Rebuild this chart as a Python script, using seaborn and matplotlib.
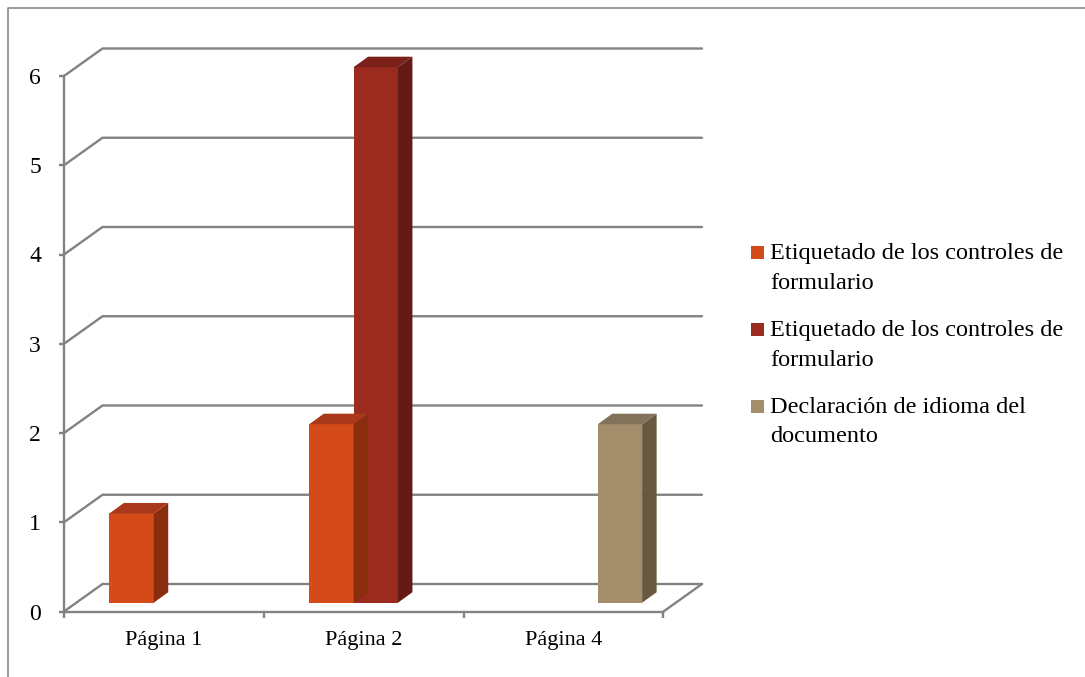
import matplotlib
matplotlib.use("Agg")
import numpy as np
import pandas as pd
import matplotlib.pyplot as plt
import matplotlib.colors as mcolors
from matplotlib.patches import Polygon, Rectangle
from matplotlib.lines import Line2D
from matplotlib.transforms import IdentityTransform, ScaledTranslation
import seaborn as sns

# ---- data -------------------------------------------------------------
pages = ["Página 1", "Página 2", "Página 4"]
series_keys = ["form_labels_a", "form_labels_b", "doc_language"]
series_labels = [
    "Etiquetado de los controles de\nformulario",
    "Etiquetado de los controles de\nformulario",
    "Declaración de idioma del\ndocumento",
]
form_labels_a = [1, 2, 0]
form_labels_b = [0, 6, 0]
doc_language = [0, 0, 2]
y_ticks = [0, 1, 2, 3, 4, 5, 6]

# ---- style ------------------------------------------------------------
front_colors = ["#D44A18", "#9B2A1F", "#A38D6B"]
top_colors = ["#A9391A", "#7A2219", "#83725A"]
side_colors = ["#8A2D0F", "#651A15", "#675840"]
grid_color = "#828282"

sns.set_theme(style="white")
plt.rcParams["font.family"] = ["Liberation Serif", "DejaVu Serif"]

records = []
for key, vals in zip(series_keys, [form_labels_a, form_labels_b, doc_language]):
    for page, v in zip(pages, vals):
        if v:
            records.append({"page": page, "series": key, "value": v})
df = pd.DataFrame(records)

DPI = 100
W, H = 1085, 677
fig = plt.figure(figsize=(W / DPI, H / DPI), dpi=DPI)
ax = fig.add_axes([64 / W, (H - 611.5) / H, 599.5 / W, 535.5 / H])
ax.patch.set_visible(False)

sns.barplot(data=df, x="page", y="value", hue="series", order=pages,
            hue_order=series_keys, palette=front_colors, width=0.666,
            saturation=1, errorbar=None, legend=False, ax=ax,
            linewidth=0, zorder=3)
ax.set_xlim(-0.5, len(pages) - 0.5)
ax.set_ylim(y_ticks[0], y_ticks[-1])
ax.set_xlabel("")
ax.set_ylabel("")

# pseudo-3D geometry (pixels)
WALL_DX, WALL_DY = 38.5, 27.5      # depth of the chart box
BAR_DX, BAR_DY = 12.0, 8.8         # where the bar front sits inside the box
DEPTH_DX, DEPTH_DY = 14.5, 10.5    # bar depth
GRID_LW = 1.7

to_px = ax.transData.transform
ident = IdentityTransform()

# back wall grid lines with their diagonals to the front axis
x_lo, x_hi = ax.get_xlim()
for k in y_ticks:
    fx, fy = to_px((x_lo, k))
    ex, ey = to_px((x_hi, k))
    ax.add_line(Line2D([fx, fx + WALL_DX, ex + WALL_DX],
                       [fy, fy + WALL_DY, ey + WALL_DY],
                       transform=ident, color=grid_color, lw=GRID_LW,
                       clip_on=False, zorder=1, solid_joinstyle="miter"))
# floor right edge
ex, ey = to_px((x_hi, y_ticks[0]))
ax.add_line(Line2D([ex, ex + WALL_DX], [ey, ey + WALL_DY], transform=ident,
                   color=grid_color, lw=GRID_LW, clip_on=False, zorder=1))

# bars: shift fronts into the box and add top / side faces
shift = ScaledTranslation(BAR_DX / DPI, BAR_DY / DPI, fig.dpi_scale_trans)
hex_front = [mcolors.to_hex(c) for c in front_colors]
for p in list(ax.patches):
    idx = hex_front.index(mcolors.to_hex(p.get_facecolor()))
    x, w, h = p.get_x(), p.get_width(), p.get_height()
    p.set_transform(ax.transData + shift)
    p.set_clip_on(False)
    x0, y0 = to_px((x, 0))
    x1, y1 = to_px((x + w, h))
    x0 += BAR_DX; x1 += BAR_DX; y0 += BAR_DY; y1 += BAR_DY
    side = [(x1, y0), (x1, y1), (x1 + DEPTH_DX, y1 + DEPTH_DY), (x1 + DEPTH_DX, y0 + DEPTH_DY)]
    top = [(x0, y1), (x1, y1), (x1 + DEPTH_DX, y1 + DEPTH_DY), (x0 + DEPTH_DX, y1 + DEPTH_DY)]
    ax.add_patch(Polygon(side, closed=True, transform=ident, facecolor=side_colors[idx],
                         edgecolor="none", clip_on=False, zorder=3))
    ax.add_patch(Polygon(top, closed=True, transform=ident, facecolor=top_colors[idx],
                         edgecolor="none", clip_on=False, zorder=3))

# axes, ticks, labels
for s in ["top", "right"]:
    ax.spines[s].set_visible(False)
for s in ["left", "bottom"]:
    ax.spines[s].set_color(grid_color)
    ax.spines[s].set_linewidth(GRID_LW)
    ax.spines[s].set_zorder(2)

ax.set_yticks(y_ticks)
ax.set_yticklabels([str(v) for v in y_ticks])
ax.tick_params(axis="y", left=True, length=3.6, width=GRID_LW, color=grid_color,
               pad=13, labelsize=17, labelcolor="black")
ax.set_xticks(range(len(pages)))
ax.set_xticklabels(pages)
ax.set_xticks(np.arange(-0.5, len(pages), 1.0), minor=True)
ax.tick_params(axis="x", which="major", bottom=True, length=0, pad=14,
               labelsize=16, labelcolor="black")
ax.tick_params(axis="x", which="minor", bottom=True, length=4.3, width=GRID_LW,
               color=grid_color)

# legend
LEG_X, LEG_Y0, LEG_STEP, LINE_STEP, SQ = 751, 259, 77, 29.5, 13
for i, label in enumerate(series_labels):
    base = LEG_Y0 + LEG_STEP * i
    fig.add_artist(Rectangle((LEG_X / W, (H - base) / H), SQ / W, SQ / H,
                             transform=fig.transFigure, facecolor=front_colors[i],
                             edgecolor="none"))
    for j, line in enumerate(label.split("\n")):
        fig.text((LEG_X + SQ + 6) / W, (H - base - LINE_STEP * j) / H, line,
                 fontsize=17.5, va="baseline", ha="left", color="black")

# outer frame
fig.add_artist(Line2D([7.5 / W, 7.5 / W, 1.0], [0.0, 1 - 7.5 / H, 1 - 7.5 / H],
                      transform=fig.transFigure, color="#8a8a8a", lw=1.2))

fig.savefig("out.png", dpi=DPI, facecolor="white")
